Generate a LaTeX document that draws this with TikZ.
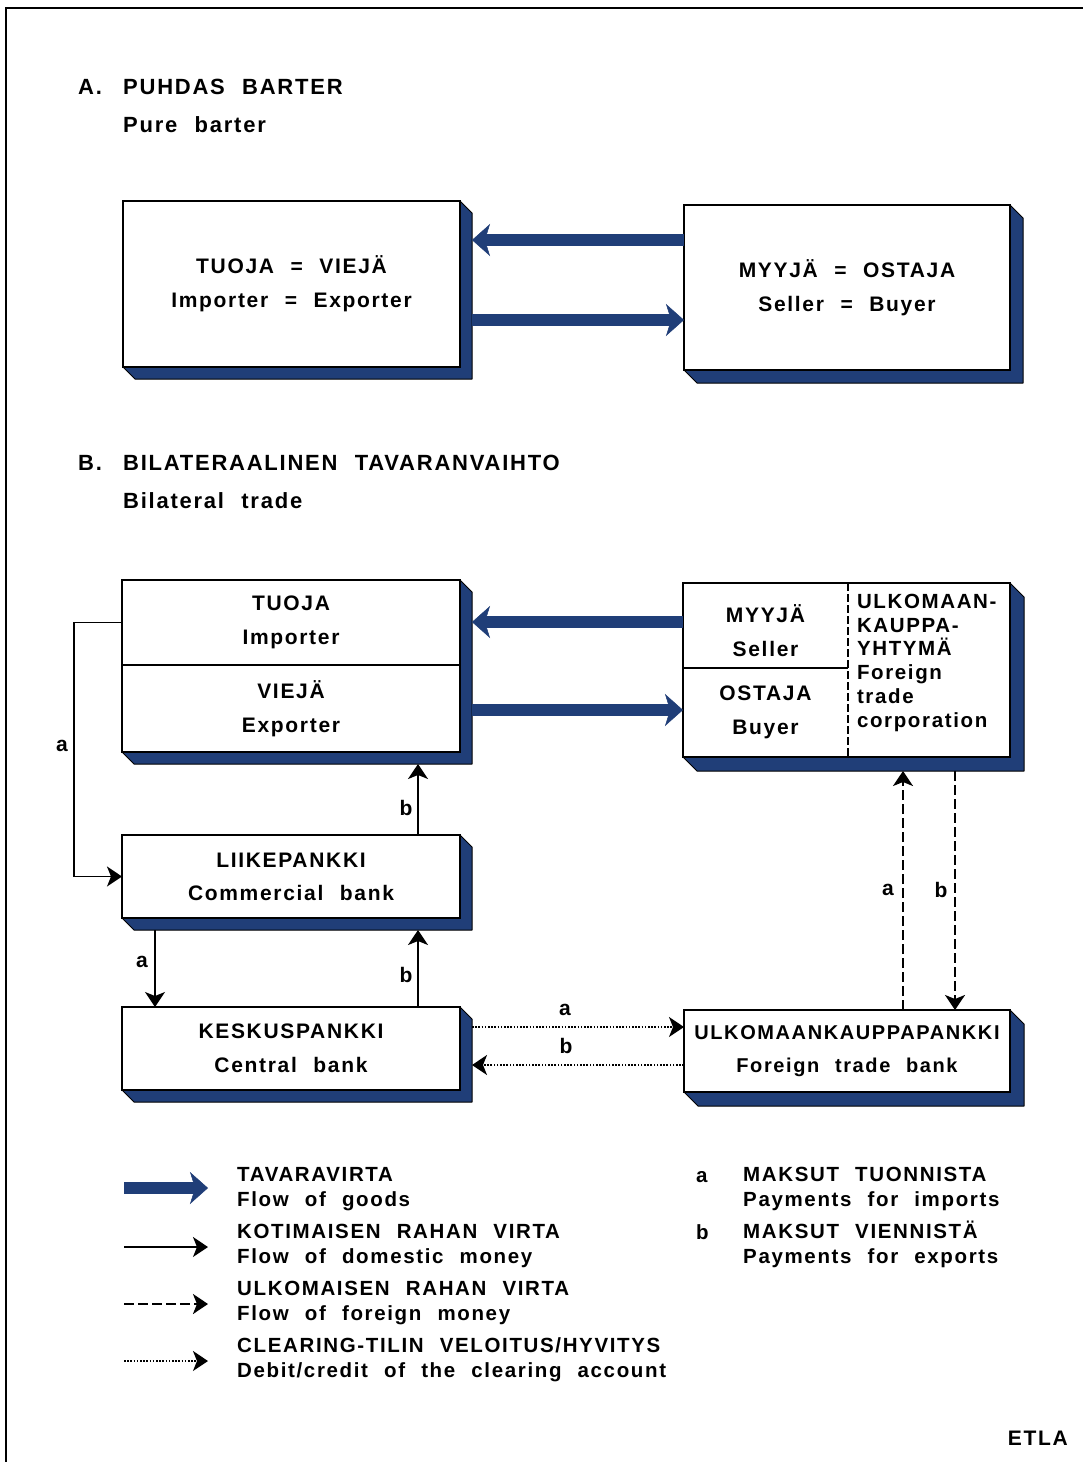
\documentclass[tikz,border=0pt]{standalone}
\usepackage{fontspec}
\setmainfont{Liberation Sans}[LetterSpace=8,WordSpace=2.2]
\usetikzlibrary{arrows.meta,calc,backgrounds}
\definecolor{slab}{RGB}{32,62,120}
\newcommand\myslab[3]{%
  \filldraw[fill=slab, draw=black, line width=1pt, line join=round]
    (#1.north east) -- ([shift={(#3,#3)}]#1.north east)
    -- ([shift={(#3,#3)}]#2.south east) -- ([shift={(#3,#3)}]#2.south west)
    -- (#2.south west) -- (#2.south east) -- cycle;}
\tikzset{
  box/.style={draw=black, line width=1.3pt, fill=white, align=center, inner sep=0pt, outer sep=0pt},
  txt/.style={font=\bfseries\fontsize{21}{34}\selectfont, align=center, inner sep=0pt, outer sep=0pt},
  goods/.style={line width=12pt, draw=slab, -{Stealth[length=18pt,width=32pt,inset=5pt,line width=0.5pt,fill=slab]}},
  money/.style={line width=1.8pt, -{Stealth[length=15pt,width=20pt,inset=4pt]}},
  foreign/.style={money, dash pattern=on 10pt off 4pt, line width=2.4pt},
  clearing/.style={money, dash pattern=on 1.6pt off 1.6pt},
  lbl/.style={font=\bfseries\fontsize{21}{21}\selectfont, inner sep=0pt},
  legend/.style={font=\bfseries\fontsize{20.5}{25}\selectfont, anchor=base west, inner sep=0pt},
  head/.style={font=\bfseries\fontsize{22}{22}\selectfont, anchor=base west, inner sep=0pt},
}
\begin{document}
\begin{tikzpicture}[x=1pt,y=-1pt]
\useasboundingbox (0,0) rectangle (1083,1462);

% headings
\node[head] (hA) at (78,94) {\makebox[45pt][l]{A.}PUHDAS BARTER};
\node[head] (hA2) at (123,132) {Pure barter};
\node[head] (hB) at (78,470) {\makebox[45pt][l]{B.}BILATERAALINEN TAVARANVAIHTO};
\node[head] (hB2) at (123,508) {Bilateral trade};

% ---------- A boxes
\node[box, txt, minimum width=337pt, minimum height=166pt] (barterL) at (291.5,284) {TUOJA = VIEJÄ\\Importer = Exporter};
\node[box, txt, minimum width=326pt, minimum height=165pt] (barterR) at (847,287.5) {MYYJÄ = OSTAJA\\Seller = Buyer};

% ---------- B boxes
\node[box, txt, minimum width=338pt, minimum height=85pt] (tuoja) at (291,622.5) {TUOJA\\Importer};
\node[box, txt, minimum width=338pt, minimum height=87pt] (vieja) at (291,708.5) {VIEJÄ\\Exporter};
\node[box, minimum width=327pt, minimum height=174pt] (corp) at (846.5,670) {};
\node[txt] (myyja) at (765.5,631) {MYYJÄ\\Seller};
\node[txt] (ostaja) at (765.5,712.5) {OSTAJA\\Buyer};
\node[txt, align=left, anchor=north west, font=\bfseries\fontsize{20.5}{23.8}\selectfont] (yhtyma) at (857,594) {ULKOMAAN-\\KAUPPA-\\YHTYMÄ\\Foreign\\trade\\corporation};
\coordinate (div) at (848,668);
\draw[line width=1.3pt] (corp.west |- div) -- (div);
\draw[line width=1.2pt, dash pattern=on 8pt off 3pt] (corp.north -| div) -- (corp.south -| div);

\node[box, txt, font=\bfseries\fontsize{21}{33}\selectfont, minimum width=338pt, minimum height=83pt] (cbank) at (291,876.5) {LIIKEPANKKI\\Commercial bank};
\node[box, txt, minimum width=338pt, minimum height=83pt] (cenbank) at (291,1048.5) {KESKUSPANKKI\\Central bank};
\node[box, txt, font=\bfseries\fontsize{20}{33}\selectfont, minimum width=326pt, minimum height=82pt] (ftbank) at (847,1051) {ULKOMAANKAUPPAPANKKI\\Foreign trade bank};

% slabs and frame
\begin{scope}[on background layer]
\fill[white] (0,0) rectangle (1083,1462);
\draw[line width=2pt] (6,1462) -- (6,8) -- (1083,8);
\myslab{barterL}{barterL}{12}
\myslab{barterR}{barterR}{13}
\myslab{tuoja}{vieja}{12}
\myslab{corp}{corp}{14}
\myslab{cbank}{cbank}{12}
\myslab{cenbank}{cenbank}{12}
\myslab{ftbank}{ftbank}{14}
\end{scope}

% ---------- goods arrows
\coordinate (ga1) at (0,240);
\coordinate (ga2) at (0,320);
\coordinate (gb1) at (0,622);
\coordinate (gb2) at (0,710);
\draw[goods] (barterR.west |- ga1) -- ([xshift=12pt]barterL.east |- ga1);
\draw[goods] ([xshift=12pt]barterL.east |- ga2) -- (barterR.west |- ga2);
\draw[goods] (corp.west |- gb1) -- ([xshift=12pt]tuoja.east |- gb1);
\draw[goods] ([xshift=12pt]vieja.east |- gb2) -- (corp.west |- gb2);

% ---------- money connectors
\coordinate (xa) at (155,0);
\coordinate (xb) at (418,0);
\coordinate (xda) at (903,0);
\coordinate (xdb) at (955,0);
\coordinate (ya) at (0,1027);
\coordinate (yb) at (0,1065);

\draw[money] (tuoja.west) -- ++(-48,0) |- (cbank.west);
\node[lbl] (la1) at (62,746) {a};

\draw[money] (cbank.north -| xb) -- ([yshift=-12pt]vieja.south -| xb);
\node[lbl] (lb1) at (406,808) {b};

\draw[money] ([yshift=-12pt]cbank.south -| xa) -- (cenbank.north -| xa);
\node[lbl] (la2) at (142,962) {a};

\draw[money] (cenbank.north -| xb) -- ([yshift=-12pt]cbank.south -| xb);
\node[lbl] (lb2) at (406,975) {b};

\draw[clearing] ([xshift=12pt]cenbank.east |- ya) -- (ftbank.west |- ya);
\node[lbl] (la3) at (565,1010) {a};
\draw[clearing] (ftbank.west |- yb) -- ([xshift=12pt]cenbank.east |- yb);
\node[lbl] (lb3) at (566,1046) {b};

\draw[foreign] (ftbank.north -| xda) -- ([yshift=-14pt]corp.south -| xda);
\node[lbl] (la4) at (888,890) {a};
\draw[foreign] ([yshift=-14pt]corp.south -| xdb) -- (ftbank.north -| xdb);
\node[lbl] (lb4) at (941,890) {b};

% ---------- legend
\coordinate (l1s) at (124,1188); \coordinate (l1e) at (208,1188);
\coordinate (l2s) at (124,1247); \coordinate (l2e) at (208,1247);
\coordinate (l3s) at (124,1304); \coordinate (l3e) at (208,1304);
\coordinate (l4s) at (124,1361); \coordinate (l4e) at (208,1361);
\draw[goods] (l1s) -- (l1e);
\draw[money] (l2s) -- (l2e);
\draw[foreign] (l3s) -- (l3e);
\draw[clearing] (l4s) -- (l4e);

\node[legend] (t1) at (237,1181) {TAVARAVIRTA};
\node[legend] (t1e) at (237,1206) {Flow of goods};
\node[legend] (t2) at (237,1238) {KOTIMAISEN RAHAN VIRTA};
\node[legend] (t2e) at (237,1263) {Flow of domestic money};
\node[legend] (t3) at (237,1295) {ULKOMAISEN RAHAN VIRTA};
\node[legend] (t3e) at (237,1320) {Flow of foreign money};
\node[legend] (t4) at (237,1352) {CLEARING-TILIN VELOITUS/HYVITYS};
\node[legend] (t4e) at (237,1377) {Debit/credit of the clearing account};

\node[legend] (ka) at (696,1182) {a};
\node[legend] (ta) at (743,1181) {MAKSUT TUONNISTA};
\node[legend] (tae) at (743,1206) {Payments for imports};
\node[legend] (kb) at (696,1239) {b};
\node[legend] (tb) at (743,1238) {MAKSUT VIENNISTÄ};
\node[legend] (tbe) at (743,1263) {Payments for exports};

\node[font=\bfseries\fontsize{21}{21}\selectfont, anchor=base east, inner sep=0pt] (etla) at (1068,1445) {ETLA};
\end{tikzpicture}
\end{document}
